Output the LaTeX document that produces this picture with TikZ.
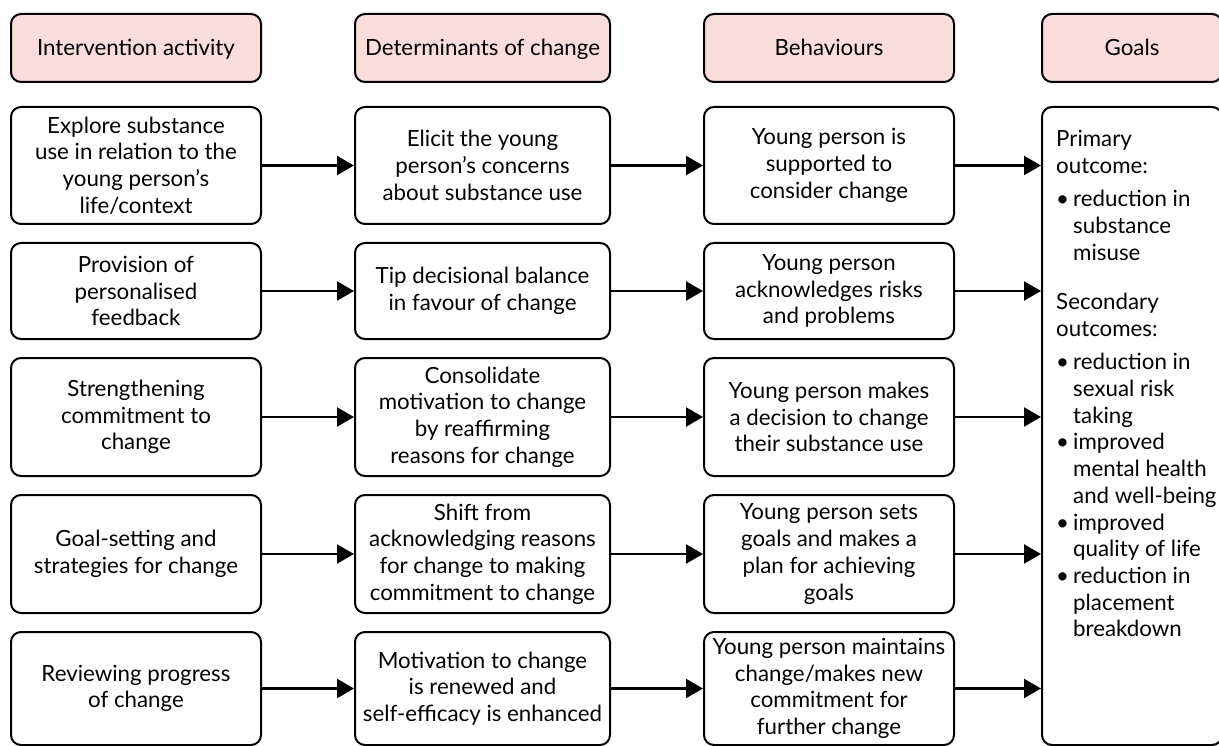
\documentclass[tikz,border=0pt]{standalone}
\usepackage{fontspec}
\setmainfont{Lato}
\usetikzlibrary{arrows.meta}
\definecolor{headpink}{RGB}{249,221,219}
\begin{document}
\begin{tikzpicture}[x=1pt,y=-1pt,
  every node/.style={font=\fontsize{22.3}{26.7}\selectfont},
  box/.style={draw, line width=2pt, rounded corners=10pt, align=center, inner sep=2pt},
  head/.style={box, fill=headpink, minimum height=68pt, text height=21pt, text depth=5pt},
  colA/.style={box, minimum width=250pt},
  colB/.style={box, minimum width=255pt},
  colC/.style={box, minimum width=250pt},
  flow/.style={line width=2.2pt, -{Triangle[length=17pt,width=19pt]}},
]
\useasboundingbox (0,0) rectangle (1219,746);

% column headings
\node[head, minimum width=250pt] (h1) at (136,48) {Intervention activity};
\node[head, minimum width=255pt] (h2) at (482.5,48) {Determinants of change};
\node[head, minimum width=250pt] (h3) at (829,48) {Behaviours};
\node[head, minimum width=180pt] (h4) at (1132,48) {Goals};

% row 1
\node[colA, minimum height=117pt] (a1) at (136,165.5) {Explore substance\\use in relation to the\\young person’s\\life/context};
\node[colB, minimum height=117pt] (b1) at (482.5,165.5) {Elicit the young\\person’s concerns\\about substance use};
\node[colC, minimum height=117pt] (c1) at (829,165.5) {Young person is\\supported to\\consider change};

% row 2
\node[colA, minimum height=96pt] (a2) at (136,291) {Provision of\\personalised\\feedback};
\node[colB, minimum height=96pt] (b2) at (482.5,291) {Tip decisional balance\\in favour of change};
\node[colC, minimum height=96pt] (c2) at (829,291) {Young person\\acknowledges risks\\and problems};

% row 3
\node[colA, minimum height=118pt] (a3) at (136,417) {Strengthening\\commitment to\\change};
\node[colB, minimum height=118pt] (b3) at (482.5,417) {Consolidate\\motivation to change\\by reaffirming\\reasons for change};
\node[colC, minimum height=118pt] (c3) at (829,417) {Young person makes\\a decision to change\\their substance use};

% row 4
\node[colA, minimum height=118pt] (a4) at (136,554) {Goal-setting and\\strategies for change};
\node[colB, minimum height=118pt] (b4) at (482.5,554) {Shift from\\acknowledging reasons\\for change to making\\commitment to change};
\node[colC, minimum height=118pt] (c4) at (829,554) {Young person sets\\goals and makes a\\plan for achieving\\goals};

% row 5
\node[colA, minimum height=113pt] (a5) at (136,688.5) {Reviewing progress\\of change};
\node[colB, minimum height=113pt] (b5) at (482.5,688.5) {Motivation to change\\is renewed and\\self-efficacy is enhanced};
\node[colC, minimum height=113pt] (c5) at (829,688.5) {Young person maintains\\change/makes new\\commitment for\\further change};

% goals column, running past the right edge
\node[box, minimum width=180pt, minimum height=638pt] (goals) at (1132,426) {};
\node[anchor=north west, align=left, inner sep=0pt] (gtext) at (1056,130) {%
Primary\\
outcome:\\[7pt]
\makebox[17pt][l]{\textbullet}reduction in\\
\hspace*{17pt}substance\\
\hspace*{17pt}misuse\\[22.5pt]
Secondary\\
outcomes:\\[7pt]
\makebox[17pt][l]{\textbullet}reduction in\\
\hspace*{17pt}sexual risk\\
\hspace*{17pt}taking\\
\makebox[17pt][l]{\textbullet}improved\\
\hspace*{17pt}mental health\\
\hspace*{17pt}and well-being\\
\makebox[17pt][l]{\textbullet}improved\\
\hspace*{17pt}quality of life\\
\makebox[17pt][l]{\textbullet}reduction in\\
\hspace*{17pt}placement\\
\hspace*{17pt}breakdown};

% connectors
\foreach \r in {1,...,5}{
  \draw[flow] (a\r) -- (b\r);
  \draw[flow] (b\r) -- (c\r);
  \draw[flow] (c\r.east) -- (c\r.east -| goals.west);
}
\end{tikzpicture}
\end{document}
